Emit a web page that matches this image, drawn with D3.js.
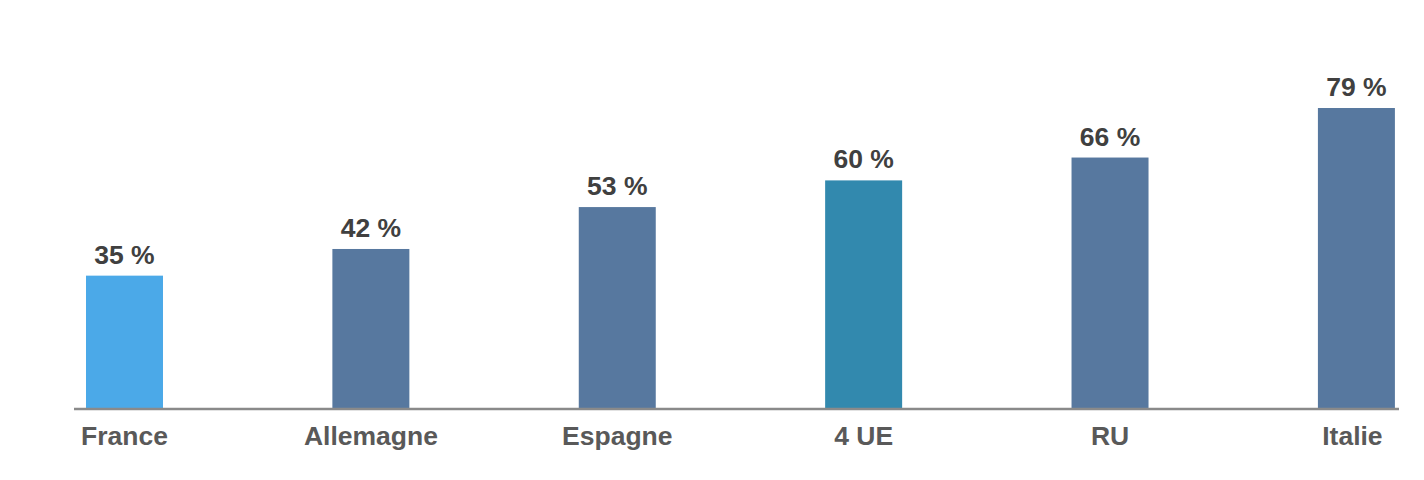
<!DOCTYPE html>
<html>
<head>
<meta charset="utf-8">
<script src="https://cdn.jsdelivr.net/npm/d3@7"></script>
<style>
    html, body { margin: 0; padding: 0; background: #fff; }
    #chart { width: 1424px; height: 480px; }
    text { font-family: 'Liberation Sans', Arial, sans-serif; font-weight: bold; }
</style>
</head>
<body>
<div id="chart"></div>
<script>
//Datos
let pays = ['France', 'Allemagne', 'Espagne', '4 UE', 'RU', 'Italie'];
let valeurs = [35, 42, 53, 60, 66, 79];
let couleurs = ['#4ba9e8', '#57789f', '#57789f', '#3289ae', '#57789f', '#57789f'];

let width = 1424, height = 480;
let baseline = 409;

let svg = d3.select('#chart')
    .append('svg')
    .attr('width', width)
    .attr('height', height);

//Eje X
let x_c = d3.scaleBand()
    .domain(pays)
    .range([1.3, 1479.6])
    .paddingInner(0.6875)
    .paddingOuter(0.34375);

//Eje Y
let y_c = d3.scaleLinear()
    .domain([0, 100])
    .range([baseline, baseline - 381]);

//Barras
svg.selectAll('.bar')
    .data(valeurs)
    .enter()
    .append('rect')
    .attr('class', 'bar')
    .attr('x', function(d, i) { return x_c(pays[i]); })
    .attr('y', function(d) { return y_c(d); })
    .attr('width', x_c.bandwidth())
    .attr('height', function(d) { return y_c(0) - y_c(d); })
    .attr('fill', function(d, i) { return couleurs[i]; });

//Etiquetas de valor
svg.selectAll('.valor')
    .data(valeurs)
    .enter()
    .append('text')
    .attr('class', 'valor')
    .attr('x', function(d, i) { return x_c(pays[i]) + x_c.bandwidth() / 2; })
    .attr('y', function(d) { return y_c(d) - 12; })
    .attr('text-anchor', 'middle')
    .attr('font-size', '26.5px')
    .attr('fill', '#404040')
    .text(function(d) { return d + ' %'; });

//Línea base
svg.append('line')
    .attr('x1', 74)
    .attr('x2', 1399)
    .attr('y1', y_c(0))
    .attr('y2', y_c(0))
    .attr('stroke', '#8a8a8a')
    .attr('stroke-width', 2.5);

//Etiquetas de categoría
let xAxis = function(g) {
    g.call(d3.axisBottom(x_c).tickSize(0).tickPadding(0));
    g.call(function(g) { g.select('.domain').remove(); });
    g.selectAll('.tick text')
        .attr('y', 0)
        .attr('dy', 0)
        .attr('dx', function(d) { return d == 'Italie' ? -4 : 0; })
        .attr('font-size', '26.5px')
        .attr('font-family', "'Liberation Sans', Arial, sans-serif")
        .attr('font-weight', 'bold')
        .attr('fill', '#595959');
};

svg.append('g')
    .attr('transform', 'translate(0,445)')
    .call(xAxis);
</script>
</body>
</html>
